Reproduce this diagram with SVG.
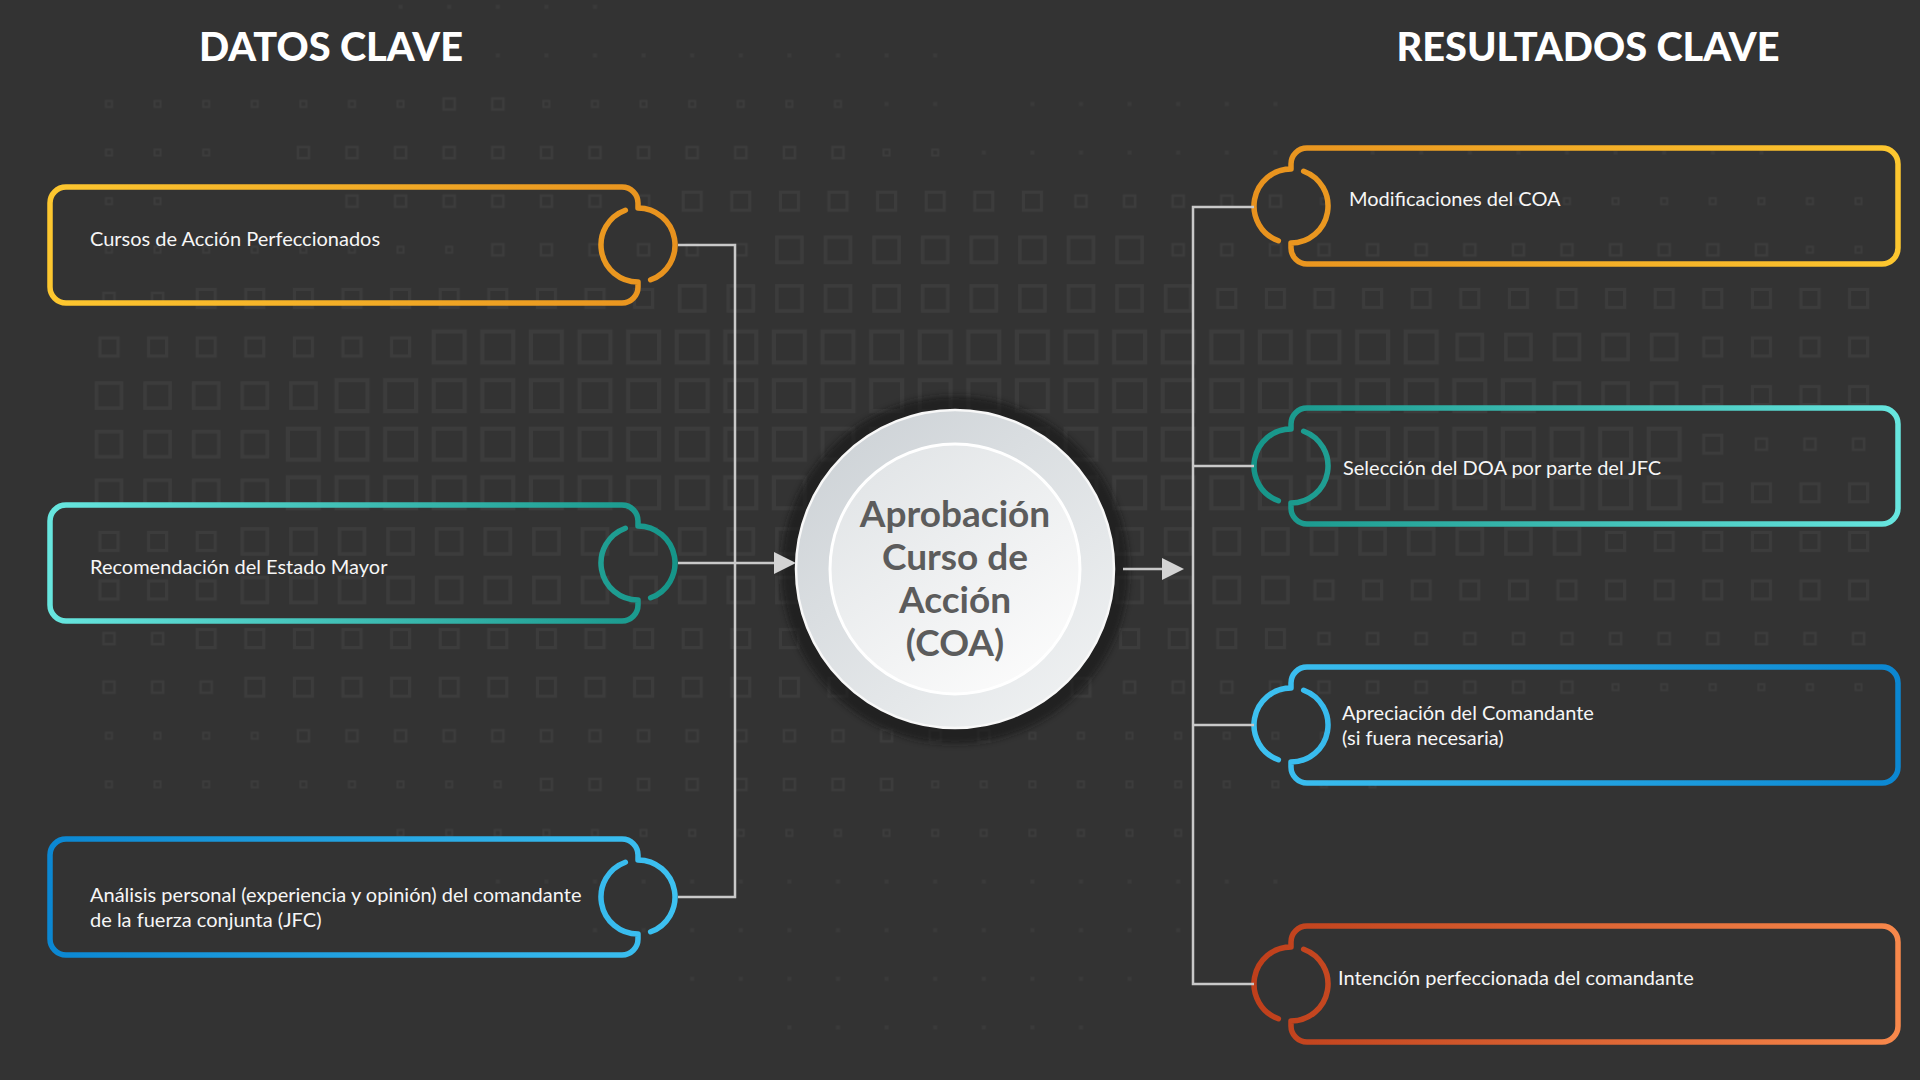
<svg xmlns="http://www.w3.org/2000/svg" width="1920" height="1080" viewBox="0 0 1920 1080">
  <style>
    .sq { fill: none; stroke: #3c3c3c; }
    .head { font-family: Lato, "Liberation Sans", sans-serif; font-weight: 900; font-size: 39.7px; fill: #ffffff; text-anchor: middle; }
    .lbl { font-family: Lato, "Liberation Sans", sans-serif; font-size: 20px; fill: #f6f6f6; }
    .core { font-family: Lato, "Liberation Sans", sans-serif; font-weight: 700; font-size: 37px; fill: #5c5c5c; text-anchor: middle; }
    .frame { fill: none; stroke-width: 5.5; stroke-linecap: round; stroke-linejoin: round; }
    .link { fill: none; stroke: #c9c9c9; stroke-width: 2.5; }
  </style>
  <defs>
    <!-- halftone square tiles, one per size step -->
    <pattern id="sq5" patternUnits="userSpaceOnUse" x="84.7" y="79.7" width="48.6" height="48.6"><rect class="sq" x="8.8" y="8.8" width="31" height="31" stroke-width="4"/></pattern>
    <pattern id="sq4" patternUnits="userSpaceOnUse" x="84.7" y="79.7" width="48.6" height="48.6"><rect class="sq" x="11.8" y="11.8" width="25" height="25" stroke-width="3.5"/></pattern>
    <pattern id="sq3" patternUnits="userSpaceOnUse" x="84.7" y="79.7" width="48.6" height="48.6"><rect class="sq" x="15.3" y="15.3" width="18" height="18" stroke-width="3"/></pattern>
    <pattern id="sq2" patternUnits="userSpaceOnUse" x="84.7" y="79.7" width="48.6" height="48.6"><rect class="sq" x="18.8" y="18.8" width="11" height="11" stroke-width="2.5"/></pattern>
    <pattern id="sq1" patternUnits="userSpaceOnUse" x="84.7" y="79.7" width="48.6" height="48.6"><rect class="sq" x="21.3" y="21.3" width="6" height="6" stroke-width="2"/></pattern>
    <pattern id="sq0" patternUnits="userSpaceOnUse" x="84.7" y="79.7" width="48.6" height="48.6"><rect x="22.3" y="22.3" width="4" height="4" fill="#3a3a3a"/></pattern>

    <linearGradient id="gL1" x1="0" y1="0" x2="1" y2="0"><stop offset="0" stop-color="#fdc72f"/><stop offset="1" stop-color="#e8921e"/></linearGradient>
    <linearGradient id="gL2" x1="0" y1="0" x2="1" y2="0"><stop offset="0" stop-color="#67e6df"/><stop offset="1" stop-color="#169589"/></linearGradient>
    <linearGradient id="gL3" x1="0" y1="0" x2="1" y2="0"><stop offset="0" stop-color="#0b87d2"/><stop offset="1" stop-color="#3dc1f1"/></linearGradient>
    <linearGradient id="gR1" x1="0" y1="0" x2="1" y2="0"><stop offset="0" stop-color="#e8921e"/><stop offset="1" stop-color="#fdc72f"/></linearGradient>
    <linearGradient id="gR2" x1="0" y1="0" x2="1" y2="0"><stop offset="0" stop-color="#169589"/><stop offset="1" stop-color="#67e6df"/></linearGradient>
    <linearGradient id="gR3" x1="0" y1="0" x2="1" y2="0"><stop offset="0" stop-color="#3dc1f1"/><stop offset="1" stop-color="#0b87d2"/></linearGradient>
    <linearGradient id="gR4" x1="0" y1="0" x2="1" y2="0"><stop offset="0" stop-color="#bf3f1b"/><stop offset="1" stop-color="#f8884b"/></linearGradient>

    <linearGradient id="discOuter" x1="0.15" y1="0.1" x2="0.85" y2="0.95"><stop offset="0" stop-color="#cfd4d8"/><stop offset="1" stop-color="#eff1f2"/></linearGradient>
    <linearGradient id="discInner" x1="0.2" y1="0.1" x2="0.8" y2="0.95"><stop offset="0" stop-color="#e3e6e8"/><stop offset="1" stop-color="#fbfbfb"/></linearGradient>
    <filter id="soft" x="-20%" y="-20%" width="140%" height="140%"><feGaussianBlur stdDeviation="3"/></filter>

    <marker id="tip" markerUnits="userSpaceOnUse" markerWidth="22" markerHeight="22" refX="0" refY="11" orient="auto">
      <path d="M0 0 L22 11 L0 22 Z" fill="#d4d4d4"/>
    </marker>
  </defs>

  <!-- backdrop -->
  <rect width="1920" height="1080" fill="#333333"/>

  <!-- halftone field of hollow squares -->
  <g id="texture">
    <g fill="url(#sq0)">
      <rect x="376.3" y="-17.5" width="243" height="48.6"/>
      <rect x="473.5" y="31.1" width="486" height="48.6"/>
      <rect x="862.3" y="79.7" width="97.2" height="48.6"/>
      <rect x="1008.1" y="79.7" width="291.6" height="48.6"/>
      <rect x="959.5" y="128.3" width="340.2" height="48.6"/>
      <rect x="1348.3" y="128.3" width="437.4" height="48.6"/>
      <rect x="473.5" y="857.3" width="826.2" height="48.6"/>
      <rect x="570.7" y="905.9" width="631.8" height="48.6"/>
      <rect x="667.9" y="954.5" width="486" height="48.6"/>
      <rect x="765.1" y="1003.1" width="340.2" height="48.6"/>
    </g>
    <g fill="url(#sq1)">
      <rect x="84.7" y="79.7" width="340.2" height="48.6"/>
      <rect x="522.1" y="79.7" width="340.2" height="48.6"/>
      <rect x="84.7" y="128.3" width="145.8" height="48.6"/>
      <rect x="862.3" y="128.3" width="97.2" height="48.6"/>
      <rect x="84.7" y="176.9" width="97.2" height="48.6"/>
      <rect x="1299.7" y="176.9" width="583.2" height="48.6"/>
      <rect x="84.7" y="225.5" width="388.8" height="48.6"/>
      <rect x="1785.7" y="225.5" width="97.2" height="48.6"/>
      <rect x="1591.3" y="662.9" width="291.6" height="48.6"/>
      <rect x="84.7" y="711.5" width="194.4" height="48.6"/>
      <rect x="1008.1" y="711.5" width="486" height="48.6"/>
      <rect x="84.7" y="760.1" width="437.4" height="48.6"/>
      <rect x="910.9" y="760.1" width="486" height="48.6"/>
      <rect x="376.3" y="808.7" width="826.2" height="48.6"/>
    </g>
    <g fill="url(#sq2)">
      <rect x="424.9" y="79.7" width="97.2" height="48.6"/>
      <rect x="279.1" y="128.3" width="583.2" height="48.6"/>
      <rect x="327.7" y="176.9" width="340.2" height="48.6"/>
      <rect x="1056.7" y="176.9" width="243" height="48.6"/>
      <rect x="473.5" y="225.5" width="291.6" height="48.6"/>
      <rect x="1153.9" y="225.5" width="631.8" height="48.6"/>
      <rect x="84.7" y="274.1" width="97.2" height="48.6"/>
      <rect x="1737.1" y="419.9" width="145.8" height="48.6"/>
      <rect x="84.7" y="614.3" width="97.2" height="48.6"/>
      <rect x="1299.7" y="614.3" width="583.2" height="48.6"/>
      <rect x="84.7" y="662.9" width="145.8" height="48.6"/>
      <rect x="1105.3" y="662.9" width="486" height="48.6"/>
      <rect x="279.1" y="711.5" width="729" height="48.6"/>
      <rect x="522.1" y="760.1" width="388.8" height="48.6"/>
    </g>
    <g fill="url(#sq3)">
      <rect x="667.9" y="176.9" width="388.8" height="48.6"/>
      <rect x="181.9" y="274.1" width="486" height="48.6"/>
      <rect x="1202.5" y="274.1" width="680.4" height="48.6"/>
      <rect x="84.7" y="322.7" width="340.2" height="48.6"/>
      <rect x="1688.5" y="322.7" width="194.4" height="48.6"/>
      <rect x="1688.5" y="371.3" width="194.4" height="48.6"/>
      <rect x="1688.5" y="419.9" width="48.6" height="48.6"/>
      <rect x="1688.5" y="468.5" width="194.4" height="48.6"/>
      <rect x="84.7" y="517.1" width="145.8" height="48.6"/>
      <rect x="1591.3" y="517.1" width="291.6" height="48.6"/>
      <rect x="84.7" y="565.7" width="145.8" height="48.6"/>
      <rect x="1299.7" y="565.7" width="583.2" height="48.6"/>
      <rect x="181.9" y="614.3" width="1117.8" height="48.6"/>
      <rect x="230.5" y="662.9" width="874.8" height="48.6"/>
    </g>
    <g fill="url(#sq4)">
      <rect x="765.1" y="225.5" width="388.8" height="48.6"/>
      <rect x="667.9" y="274.1" width="534.6" height="48.6"/>
      <rect x="1445.5" y="322.7" width="243" height="48.6"/>
      <rect x="84.7" y="371.3" width="243" height="48.6"/>
      <rect x="1542.7" y="371.3" width="145.8" height="48.6"/>
      <rect x="84.7" y="419.9" width="194.4" height="48.6"/>
      <rect x="84.7" y="468.5" width="194.4" height="48.6"/>
      <rect x="230.5" y="517.1" width="1360.8" height="48.6"/>
      <rect x="230.5" y="565.7" width="1069.2" height="48.6"/>
    </g>
    <g fill="url(#sq5)">
      <rect x="424.9" y="322.7" width="1020.6" height="48.6"/>
      <rect x="327.7" y="371.3" width="1215" height="48.6"/>
      <rect x="279.1" y="419.9" width="1409.4" height="48.6"/>
      <rect x="279.1" y="468.5" width="1409.4" height="48.6"/>
    </g>
  </g>

  <!-- column titles -->
  <text class="head" x="331" y="61">DATOS CLAVE</text>
  <text class="head" x="1588" y="61">RESULTADOS CLAVE</text>

  <!-- input cards -->
  <g id="in-coa-refinados">
    <path class="frame" stroke="url(#gL1)" d="M 650.65 279.77 A 37 37 0 0 0 638 208 L 638 203 A 16 16 0 0 0 622 187 L 66 187 A 16 16 0 0 0 50 203 L 50 287 A 16 16 0 0 0 66 303 L 622 303 A 16 16 0 0 0 638 287 L 638 282 A 37 37 0 0 1 625.35 210.23"/>
    <text class="lbl" x="90" y="246">Cursos de Acción Perfeccionados</text>
  </g>
  <g id="in-recomendacion">
    <path class="frame" stroke="url(#gL2)" d="M 650.65 597.77 A 37 37 0 0 0 638 526 L 638 521 A 16 16 0 0 0 622 505 L 66 505 A 16 16 0 0 0 50 521 L 50 605 A 16 16 0 0 0 66 621 L 622 621 A 16 16 0 0 0 638 605 L 638 600 A 37 37 0 0 1 625.35 528.23"/>
    <text class="lbl" x="90" y="574">Recomendación del Estado Mayor</text>
  </g>
  <g id="in-analisis">
    <path class="frame" stroke="url(#gL3)" d="M 650.65 931.77 A 37 37 0 0 0 638 860 L 638 855 A 16 16 0 0 0 622 839 L 66 839 A 16 16 0 0 0 50 855 L 50 939 A 16 16 0 0 0 66 955 L 622 955 A 16 16 0 0 0 638 939 L 638 934 A 37 37 0 0 1 625.35 862.23"/>
    <text class="lbl" x="90" y="902">Análisis personal (experiencia y opinión) del comandante</text>
    <text class="lbl" x="90" y="927">de la fuerza conjunta (JFC)</text>
  </g>

  <!-- approval hub -->
  <g id="hub">
    <circle cx="955" cy="570" r="174" fill="#151515" opacity="0.6" filter="url(#soft)"/>
    <circle cx="955" cy="569" r="159" fill="url(#discOuter)" stroke="#f8f8f8" stroke-width="2.5"/>
    <circle cx="955" cy="569" r="125" fill="url(#discInner)" stroke="#ffffff" stroke-width="3"/>
    <text class="core" x="955" y="527">Aprobación</text>
    <text class="core" x="955" y="570">Curso de</text>
    <text class="core" x="955" y="613">Acción</text>
    <text class="core" x="955" y="656">(COA)</text>
  </g>

  <!-- output cards -->
  <g id="out-modificaciones">
    <path class="frame" stroke="url(#gR1)" d="M 1303.65 171.23 A 37 37 0 0 1 1291 243 L 1291 248 A 16 16 0 0 0 1307 264 L 1882 264 A 16 16 0 0 0 1898 248 L 1898 164 A 16 16 0 0 0 1882 148 L 1307 148 A 16 16 0 0 0 1291 164 L 1291 169 A 37 37 0 0 0 1278.35 240.77"/>
    <text class="lbl" x="1349" y="206">Modificaciones del COA</text>
  </g>
  <g id="out-seleccion">
    <path class="frame" stroke="url(#gR2)" d="M 1303.65 431.23 A 37 37 0 0 1 1291 503 L 1291 508 A 16 16 0 0 0 1307 524 L 1882 524 A 16 16 0 0 0 1898 508 L 1898 424 A 16 16 0 0 0 1882 408 L 1307 408 A 16 16 0 0 0 1291 424 L 1291 429 A 37 37 0 0 0 1278.35 500.77"/>
    <text class="lbl" x="1343" y="475">Selección del DOA por parte del JFC</text>
  </g>
  <g id="out-apreciacion">
    <path class="frame" stroke="url(#gR3)" d="M 1303.65 690.23 A 37 37 0 0 1 1291 762 L 1291 767 A 16 16 0 0 0 1307 783 L 1882 783 A 16 16 0 0 0 1898 767 L 1898 683 A 16 16 0 0 0 1882 667 L 1307 667 A 16 16 0 0 0 1291 683 L 1291 688 A 37 37 0 0 0 1278.35 759.77"/>
    <text class="lbl" x="1342" y="720">Apreciación del Comandante</text>
    <text class="lbl" x="1342" y="745">(si fuera necesaria)</text>
  </g>
  <g id="out-intencion">
    <path class="frame" stroke="url(#gR4)" d="M 1303.65 949.23 A 37 37 0 0 1 1291 1021 L 1291 1026 A 16 16 0 0 0 1307 1042 L 1882 1042 A 16 16 0 0 0 1898 1026 L 1898 942 A 16 16 0 0 0 1882 926 L 1307 926 A 16 16 0 0 0 1291 942 L 1291 947 A 37 37 0 0 0 1278.35 1018.77"/>
    <text class="lbl" x="1338" y="985">Intención perfeccionada del comandante</text>
  </g>

  <!-- connectors -->
  <g id="connectors">
    <path class="link" d="M 678 245 H 735 V 897 H 678"/>
    <path class="link" d="M 678 563 H 774" marker-end="url(#tip)"/>
    <path class="link" d="M 1123 569 H 1162" marker-end="url(#tip)"/>
    <path class="link" d="M 1254 207 H 1193 V 984 H 1254"/>
    <path class="link" d="M 1193 466 H 1254"/>
    <path class="link" d="M 1193 725 H 1254"/>
  </g>
</svg>
